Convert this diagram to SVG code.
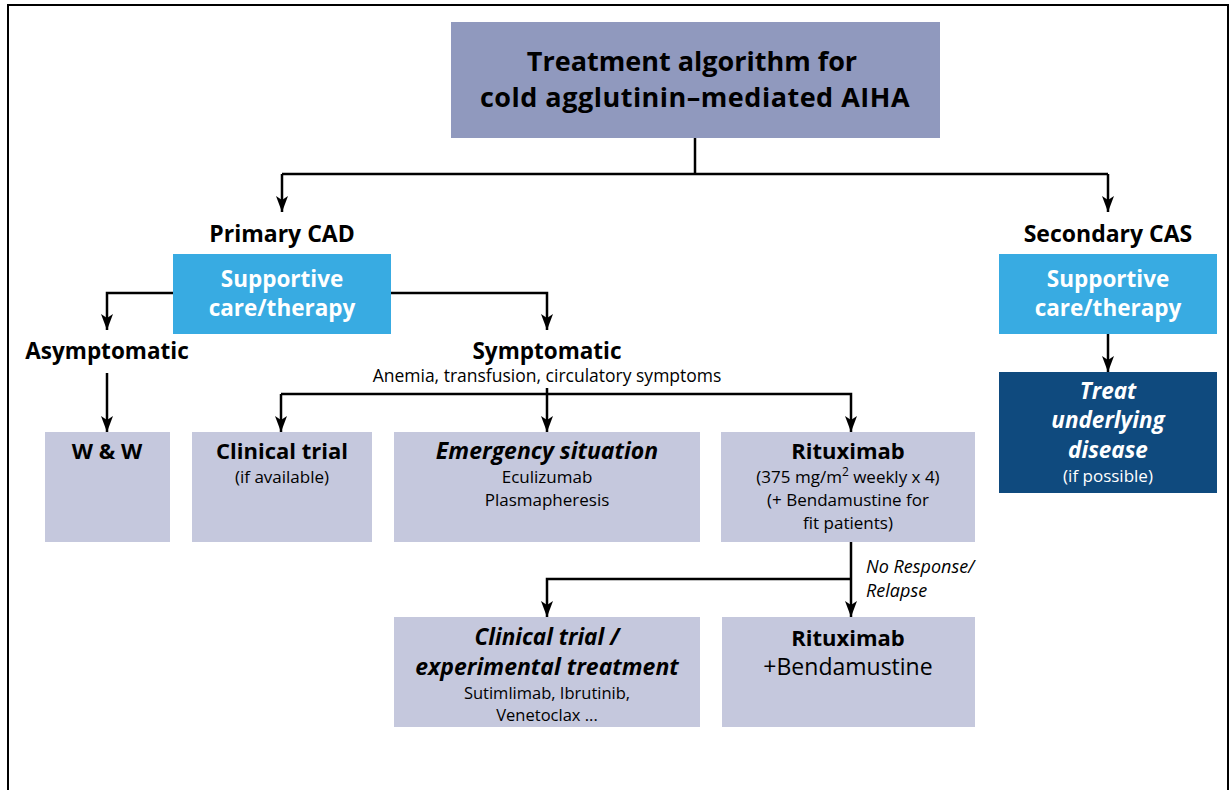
<svg xmlns="http://www.w3.org/2000/svg" width="1232" height="790" viewBox="0 0 1232 790">
<defs>
<marker id="ad" viewBox="0 0 12 16" refX="6" refY="16" markerWidth="12" markerHeight="16" markerUnits="userSpaceOnUse" orient="0">
<path d="M0,0 L6,4 L12,0 L6,16 Z" fill="#000"/>
</marker>
</defs>
<style>
text{font-family:"Open Sans","Liberation Sans",sans-serif;text-anchor:middle;fill:#000}
.t{font-size:27px;font-weight:700}
.h{font-size:22px;font-weight:700}
.hi{font-size:23px;font-weight:700;font-style:italic}
.s{font-size:17px}
.s2{font-size:16.5px}
.w{fill:#fff;font-size:22.5px;font-weight:700}
.wi{fill:#fff;font-size:22.5px;font-weight:700;font-style:italic}
.ws{fill:#fff;font-size:17px}
.lab{font-size:18px;font-style:italic;text-anchor:start}
.lav{fill:#C5C8DD}
.blue{fill:#38ABE2}
.c{fill:none;stroke:#000;stroke-width:2.5}
</style>
<rect x="8" y="5" width="1220" height="800" fill="#fff" stroke="#000" stroke-width="2"/>

<g id="connectors">
<path class="c" d="M695,138 V174"/>
<path class="c" d="M282,174 H1108"/>
<path class="c" d="M282,174 V212" marker-end="url(#ad)"/>
<path class="c" d="M1108,174 V212" marker-end="url(#ad)"/>
<path class="c" d="M173,293 H107 V330" marker-end="url(#ad)"/>
<path class="c" d="M391,293 H547 V330" marker-end="url(#ad)"/>
<path class="c" d="M107,373 V432" marker-end="url(#ad)"/>
<path class="c" d="M281,394 H851 V432" marker-end="url(#ad)"/>
<path class="c" d="M281,394 V432" marker-end="url(#ad)"/>
<path class="c" d="M547,388 V432" marker-end="url(#ad)"/>
<path class="c" d="M1108,334 V372" marker-end="url(#ad)"/>
<path class="c" d="M851,542 V617" marker-end="url(#ad)"/>
<path class="c" d="M851,579 H547 V617" marker-end="url(#ad)"/>
<text x="866" y="573" class="lab">No Response/</text>
<text x="866" y="597" class="lab">Relapse</text>
</g>

<g id="title">
<rect x="451" y="22" width="489" height="116" fill="#9099BE"/>
<text x="692" y="71" class="t">Treatment algorithm for</text>
<text x="695" y="107" class="t" style="letter-spacing:0.5px">cold agglutinin–mediated AIHA</text>
</g>

<g id="primary">
<text x="282" y="242" class="h" style="font-size:23px">Primary CAD</text>
</g>
<g id="secondary">
<text x="1108" y="242" class="h" style="font-size:23px">Secondary CAS</text>
</g>

<g id="supp-left">
<rect x="173" y="254" width="218" height="80" class="blue"/>
<text x="282" y="287" class="w">Supportive</text>
<text x="282" y="316" class="w">care/therapy</text>
</g>
<g id="supp-right">
<rect x="999" y="254" width="218" height="80" class="blue"/>
<text x="1108" y="287" class="w">Supportive</text>
<text x="1108" y="316" class="w">care/therapy</text>
</g>

<g id="asymptomatic">
<text x="107" y="359" class="h" style="font-size:22.5px">Asymptomatic</text>
</g>
<g id="symptomatic">
<text x="547" y="359" class="h" style="font-size:22.5px">Symptomatic</text>
<text x="547" y="382" class="s" style="font-size:17.5px">Anemia, transfusion, circulatory symptoms</text>
</g>

<g id="treat-underlying">
<rect x="999" y="372" width="218" height="121" fill="#0F4A7E"/>
<text x="1108" y="399" class="wi">Treat</text>
<text x="1108" y="428" class="wi">underlying</text>
<text x="1108" y="458" class="wi">disease</text>
<text x="1108" y="482" class="ws">(if possible)</text>
</g>

<g id="ww">
<rect x="45" y="432" width="125" height="110" class="lav"/>
<text x="107" y="459" class="h">W &amp; W</text>
</g>
<g id="clinical-trial">
<rect x="192" y="432" width="180" height="110" class="lav"/>
<text x="282" y="459" class="h">Clinical trial</text>
<text x="282" y="483" class="s">(if available)</text>
</g>
<g id="emergency">
<rect x="394" y="432" width="306" height="110" class="lav"/>
<text x="547" y="459" class="hi">Emergency situation</text>
<text x="547" y="483" class="s">Eculizumab</text>
<text x="547" y="506" class="s">Plasmapheresis</text>
</g>
<g id="rituximab">
<rect x="721" y="432" width="254" height="110" class="lav"/>
<text x="848" y="459" class="h">Rituximab</text>
<text x="848" y="483" class="s">(375 mg/m<tspan dy="-7" font-size="12">2</tspan><tspan dy="7"> weekly x 4)</tspan></text>
<text x="848" y="506" class="s">(+ Bendamustine for</text>
<text x="848" y="529" class="s">fit patients)</text>
</g>

<g id="experimental">
<rect x="394" y="617" width="306" height="110" class="lav"/>
<text x="547" y="645" class="hi" style="font-size:22.5px">Clinical trial /</text>
<text x="547" y="675" class="hi">experimental treatment</text>
<text x="547" y="699" class="s2">Sutimlimab, Ibrutinib,</text>
<text x="547" y="721" class="s2">Venetoclax ...</text>
</g>
<g id="ritux-benda">
<rect x="722" y="617" width="253" height="110" class="lav"/>
<text x="848" y="646" class="h">Rituximab</text>
<text x="848" y="675" style="font-size:23px">+Bendamustine</text>
</g>
</svg>
